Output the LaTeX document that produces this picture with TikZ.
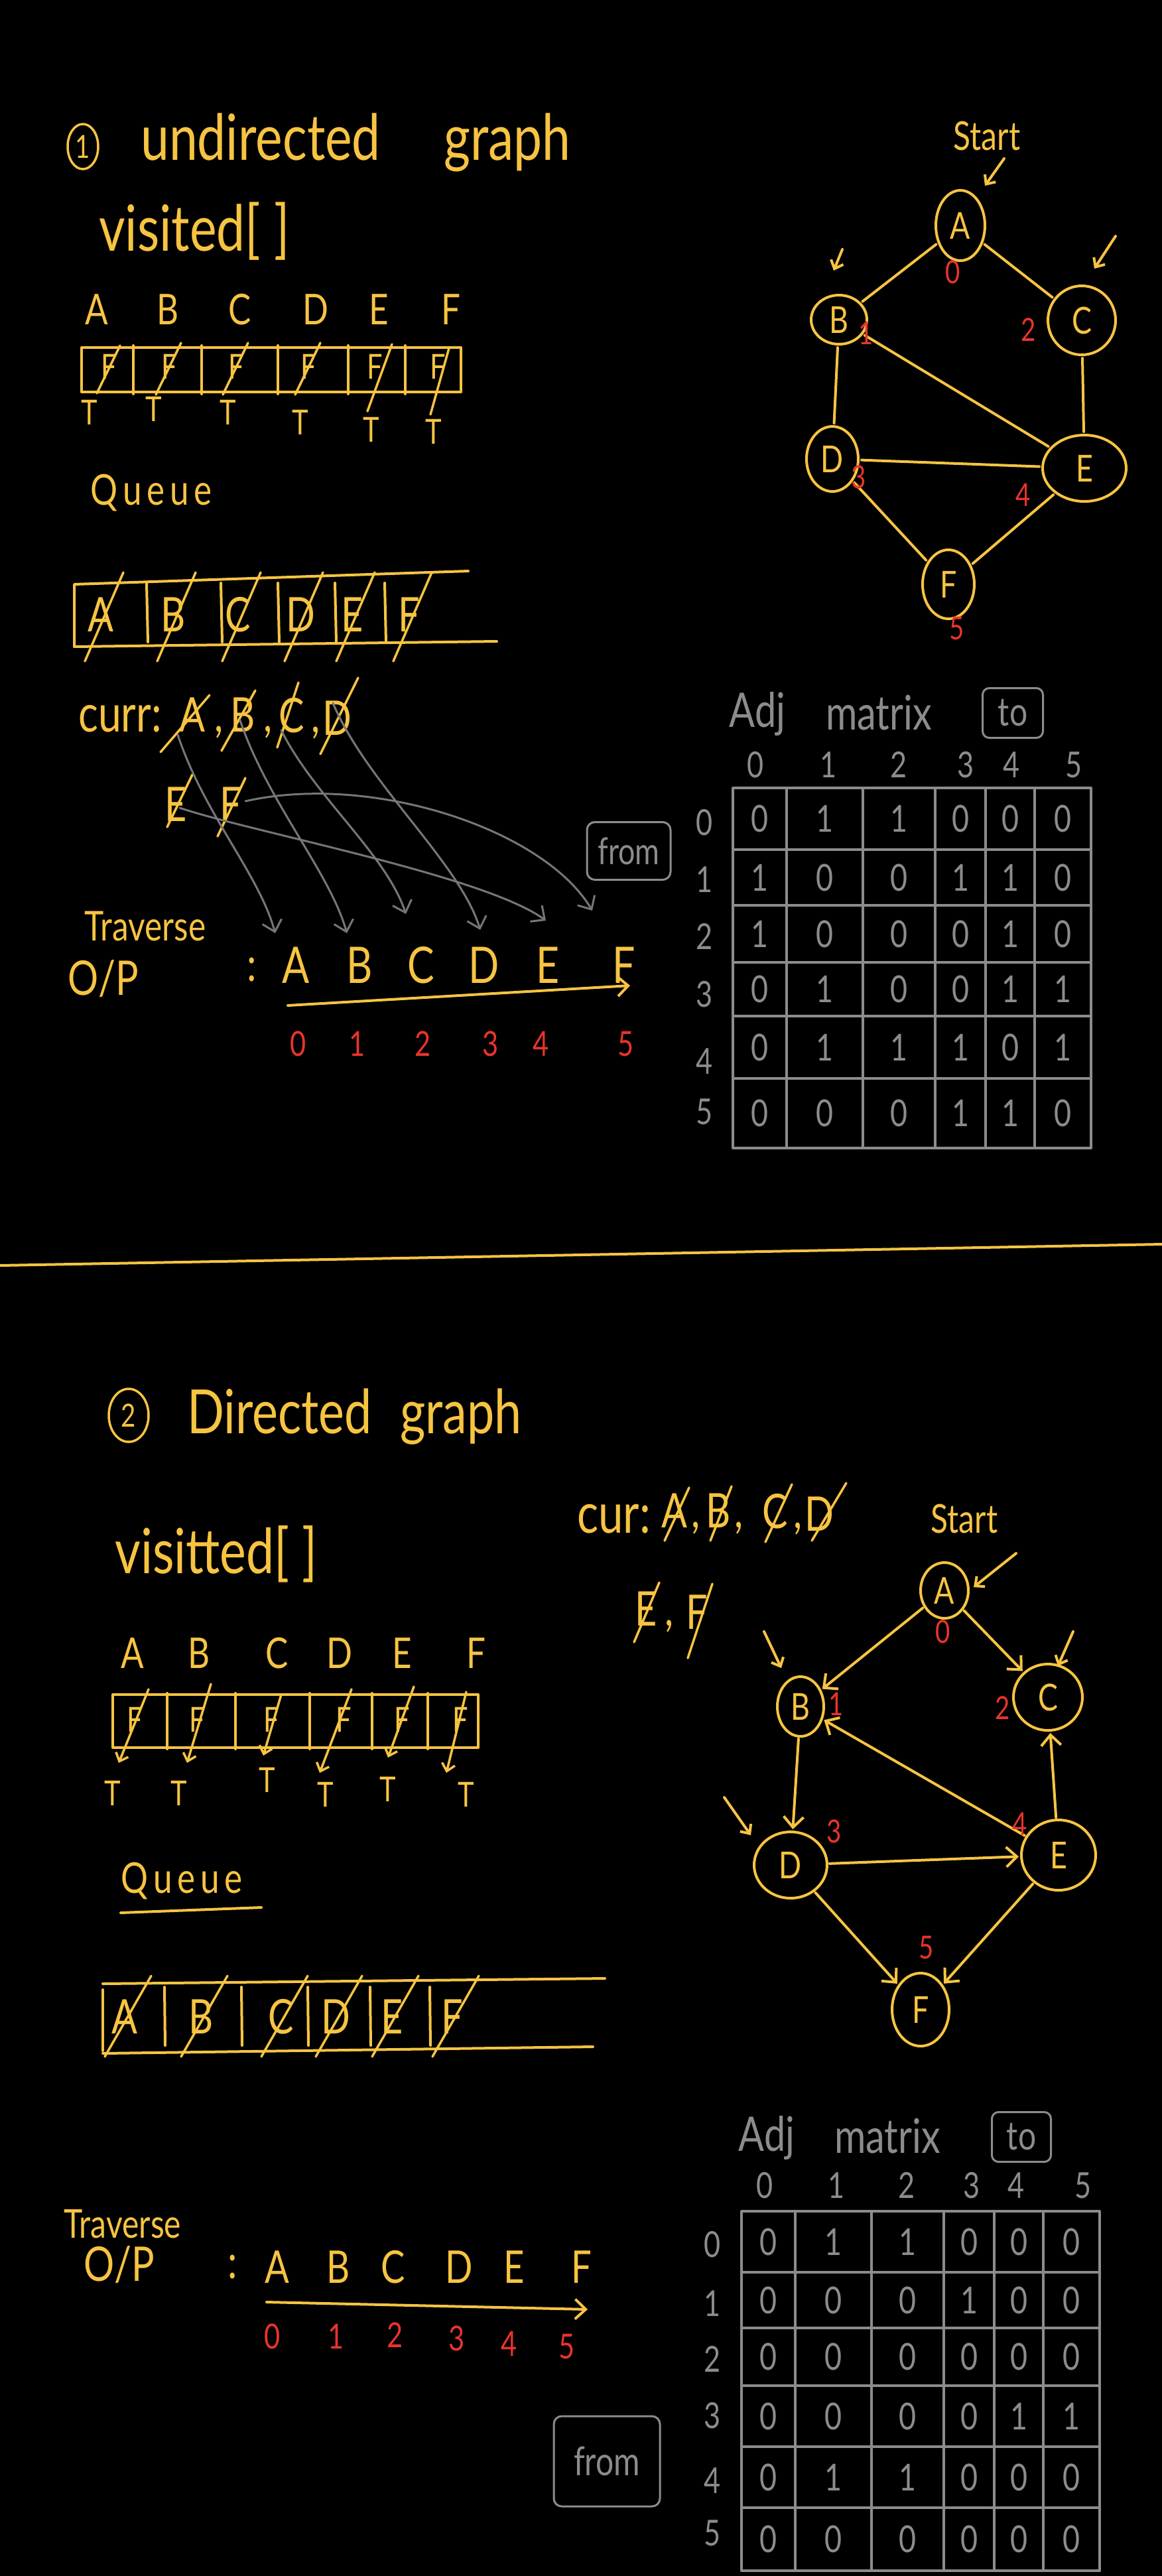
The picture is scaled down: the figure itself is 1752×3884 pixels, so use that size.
\documentclass[tikz,border=0pt]{standalone}
\usepackage{fontspec}
\setmainfont{Lato}[FakeStretch=0.8]
\usetikzlibrary{arrows.meta,shapes.geometric}
\definecolor{yel}{RGB}{247,196,66}
\definecolor{rd}{RGB}{232,52,44}
\definecolor{gr}{RGB}{140,140,140}
\definecolor{ag}{RGB}{118,118,118}
\newcommand\hsz[1]{\fontsize{#1}{#1}\selectfont}
\newcommand\cmafter[1]{\rlap{\hspace{#1pt},}}
\tikzset{
  ytxt/.style={text=yel, inner sep=0pt},
  rtxt/.style={text=rd, inner sep=0pt, font=\hsz{48}},
  gtxt/.style={text=gr, inner sep=0pt},
  yln/.style={draw=yel, line width=4pt},
  gln/.style={draw=gr, line width=3.5pt},
  garr/.style={draw=ag, line width=3pt, -{Straight Barb[length=16pt,width=30pt]}},
  gnode/.style={draw=yel, line width=4pt, ellipse, inner sep=0pt, text=yel, font=\hsz{56}},
  tip/.style={-{Straight Barb[length=16pt,width=30pt]}},
  stip/.style={-{Straight Barb[length=11pt,width=20pt]}},
  xout/.style={draw=yel, line width=3.5pt},
  gbox/.style={draw=gr, text=gr, line width=3pt, rounded corners=12pt, inner sep=0pt},
}
\begin{document}
\begin{tikzpicture}[x=1pt,y=-1pt,line cap=round,line join=round]
\fill[black] (0,0) rectangle (1752,3884);
\useasboundingbox (0,0) rectangle (1752,3884);

% =============== Section 1 : undirected ===============
\node[draw=yel,line width=3.5pt,ellipse,minimum width=46,minimum height=68,inner sep=0pt,text=yel,font=\hsz{48}] (n1) at (125,221) {1};
\node[ytxt,font=\hsz{96},anchor=base west] (t1a) at (212,241) {undirected};
\node[ytxt,font=\hsz{96},anchor=base west] (t1b) at (669,241) {graph};
\node[ytxt,font=\hsz{96},anchor=base west] (v1) at (149,378) {visited[ ]};

\foreach \l/\x in {A/146,B/253,C/362,D/476,E/571,F/680}
  \node[ytxt,font=\hsz{64}] (h1\l) at (\x,467) {\l};

\draw[yln] (123,524) rectangle (695,591);
\foreach \x in {201,304,419,525,611} \draw[yln] (\x,521) -- (\x,594);
\foreach \l/\x/\a/\b/\c/\d in {A/164/-18/40/17/-32,B/255/-20/42/18/-36,C/356/-20/42/18/-36,D/465/-20/42/18/-36,E/565/-11/67/26/-34,F/660/-11/72/17/-28}{
  \node[ytxt,font=\hsz{52}] (b1\l) at (\x,553) {F};
  \draw[xout] ([shift={(\a,\b)}]b1\l.center) -- ([shift={(\c,\d)}]b1\l.center);
}
\foreach \l/\x/\y in {A/135/622,B/232/617,C/344/622,D/453/637,E/560/648,F/654/651}
  \node[ytxt,font=\hsz{52}] (tt1\l) at (\x,\y) {T};

\node[ytxt,font=\hsz{64}\addfontfeature{LetterSpace=12}] (q1) at (228,743) {Queue};
\coordinate (q1a) at (112,975); \coordinate (q1b) at (112,881);
\coordinate (q1c) at (706,861); \coordinate (q1d) at (749,967);
\draw[yln] (q1a) -- (q1b) -- (q1c);
\draw[yln] (q1a) -- (q1d);
\foreach \x in {221,333,419,505,580} \draw[yln] (\x,879) -- (\x+2,968);
\foreach \l/\x in {A/152,B/261,C/359,D/453,E/531,F/617}{
  \node[ytxt,font=\hsz{72}] (qq1\l) at (\x,927) {\l};
  \draw[xout] ([shift={(-24,70)}]qq1\l.center) -- ([shift={(34,-64)}]qq1\l.center);
}

% curr list
\node[ytxt,font=\hsz{78},anchor=base west] (cur1) at (118,1103) {curr:};
\foreach \l/\x/\y/\a/\b/\c/\d/\k in {A/290/1083/-48/51/26/-35/{\cmafter{14}},B/366/1083/-32/49/19/-42/{\cmafter{13}},C/440/1083/-22/44/10/-54/{\cmafter{10}},D/508/1083/-25/54/32/-61/{},E/265/1213/-13/34/25/-45/{},F/348/1213/-20/48/22/-40/{}}{
  \node[ytxt,font=\hsz{72}] (c1\l) at (\x,\y) {\l\k};
  \draw[xout] ([shift={(\a,\b)}]c1\l.center) -- ([shift={(\c,\d)}]c1\l.center);
}

% traverse output
\node[ytxt,font=\hsz{62}] (tr1) at (219,1397) {Traverse};
\node[ytxt,font=\hsz{72}] (op1) at (156,1476) {O/P};
\node[ytxt,font=\hsz{72}] (col1) at (380,1462) {:};
\foreach \l/\x in {A/446,B/542,C/635,D/730,E/826,F/941}
  \node[ytxt,font=\hsz{76}] (o1\l) at (\x,1455) {\l};
\coordinate (a1s) at (434,1516); \coordinate (a1e) at (950,1486);
\draw[yln,tip] (a1s) -- (a1e);
\foreach \n/\x in {0/450,1/539,2/638,3/740,4/816,5/944}
  \node[rtxt,font=\hsz{52}] (r1\n) at (\x,1574) {\n};

% gray arrows curr -> output
\draw[garr] ([shift={(-22,25)}]c1A.center) .. controls +(40,120) and +(-25,-90) .. ([shift={(-31,-48)}]o1A.center);
\draw[garr] ([shift={(-4,3)}]c1B.center) .. controls +(40,120) and +(-25,-90) .. ([shift={(-19,-48)}]o1B.center);
\draw[garr] ([shift={(-16,18)}]c1C.center) .. controls +(50,100) and +(-30,-90) .. ([shift={(-23,-77)}]o1C.center);
\draw[garr] ([shift={(-6,-23)}]c1D.center) .. controls +(50,120) and +(-30,-100) .. ([shift={(-6,-53)}]o1D.center);
\draw[garr] ([shift={(6,5)}]c1E.center) .. controls (380,1255) and (730,1320) .. ([shift={(-3,-67)}]o1E.center);
\draw[garr] ([shift={(22,-5)}]c1F.center) .. controls (560,1165) and (820,1250) .. ([shift={(-48,-82)}]o1F.center);

\node[gbox,font=\hsz{56},minimum width=126,minimum height=87] (from1) at (948,1283) {from};

% adjacency matrix 1
\node[gtxt,font=\hsz{72}] (adj1) at (1142,1077) {Adj};
\node[gtxt,font=\hsz{72}] (mat1) at (1325,1075) {matrix};
\node[gbox,font=\hsz{60},rounded corners=10pt,minimum width=91,minimum height=75] (to1) at (1527,1075) {to};
\foreach \n/\x in {0/1139,1/1249,2/1355,3/1456,4/1525,5/1619}
  \node[gtxt,font=\hsz{54}] (ch1\n) at (\x,1153) {\n};
\foreach \n/\y in {0/1240,1/1326,2/1412,3/1499,4/1600,5/1676}
  \node[gtxt,font=\hsz{54}] (rh1\n) at (1062,\y) {\n};
\foreach \x in {1105,1186,1301,1410,1486,1560,1645} \draw[gln] (\x,1188) -- (\x,1731);
\foreach \y in {1188,1281,1365,1451,1532,1626,1731} \draw[gln] (1105,\y) -- (1645,\y);
\foreach \row [count=\r from 0] in {{0,1,1,0,0,0},{1,0,0,1,1,0},{1,0,0,0,1,0},{0,1,0,0,1,1},{0,1,1,1,0,1},{0,0,0,1,1,0}}{
  \foreach \v [count=\c from 0] in \row {
    \pgfmathsetmacro\cx{{1145.5,1243.5,1355.5,1448,1523,1602.5}[\c]}
    \pgfmathsetmacro\cy{{1234.5,1323,1408,1491.5,1579,1678.5}[\r]}
    \node[gtxt,font=\hsz{56}] (m1-\r-\c) at (\cx,\cy) {\v};
  }
}

% graph 1
\node[gnode,minimum width=74,minimum height=106] (g1A) at (1448,340) {A};
\node[gnode,minimum width=84,minimum height=74] (g1B) at (1265,482) {B};
\node[gnode,minimum width=102,minimum height=104] (g1C) at (1631,483) {C};
\node[gnode,minimum width=78,minimum height=98] (g1D) at (1255,692) {D};
\node[gnode,minimum width=126,minimum height=100] (g1E) at (1635,706) {E};
\node[gnode,minimum width=78,minimum height=104] (g1F) at (1430,881) {F};
\foreach \a/\b in {A/B,A/C,B/D,B/E,C/E,D/E,D/F,E/F}
  \draw[yln,shorten <=3pt,shorten >=3pt] (g1\a) -- (g1\b);
\node[ytxt,font=\hsz{60}] (st1) at (1488,205) {Start};
\coordinate (s1a) at (1514,239); \coordinate (s1b) at (1485,280);
\draw[yln,stip] (s1a) -- (s1b);
\coordinate (b1a) at (1270,376); \coordinate (b1b) at (1257,408);
\draw[yln,stip] (b1a) -- (b1b);
\coordinate (k1a) at (1682,356); \coordinate (k1b) at (1650,405);
\draw[yln,stip] (k1a) -- (k1b);
\foreach \n/\x/\y in {0/1437/410,1/1306/502,2/1551/497,3/1295/719,4/1543/746,5/1443/947}
  \node[rtxt] (gr1\n) at (\x,\y) {\n};

% divider
\coordinate (dv1) at (0,1908); \coordinate (dv2) at (1752,1876);
\draw[yln] (dv1) -- (dv2);

% =============== Section 2 : directed ===============
\node[draw=yel,line width=3.5pt,ellipse,minimum width=60,minimum height=80,inner sep=0pt,text=yel,font=\hsz{48}] (n2) at (194,2134) {2};
\node[ytxt,font=\hsz{92},anchor=base west] (t2a) at (282,2161) {Directed};
\node[ytxt,font=\hsz{92},anchor=base west] (t2b) at (603,2161) {graph};
\node[ytxt,font=\hsz{94},anchor=base west] (v2) at (173,2372) {visitted[ ]};

\foreach \l/\x in {A/200,B/300,C/418,D/512,E/606,F/718}
  \node[ytxt,font=\hsz{64}] (h2\l) at (\x,2493) {\l};
\draw[yln] (170,2555) rectangle (721,2635);
\foreach \x in {252,355,467,561,645} \draw[yln] (\x,2553) -- (\x,2637);
\foreach \l/\x/\a/\b/\c/\d in {A/203/21/-46/-24/65,B/297/21/-54/-15/65,C/409/15/-38/-12/54,D/518/12/-46/-36/80,E/606/18/-50/-21/57,F/694/9/-42/-21/80}{
  \node[ytxt,font=\hsz{52}] (b2\l) at (\x,2593) {F};
  \draw[xout,stip] ([shift={(\a,\b)}]b2\l.center) -- ([shift={(\c,\d)}]b2\l.center);
}
\foreach \l/\x/\y in {A/170/2704,B/270/2704,C/403/2684,D/491/2706,E/585/2698,F/703/2706}
  \node[ytxt,font=\hsz{52}] (tt2\l) at (\x,\y) {T};

\node[ytxt,font=\hsz{64}\addfontfeature{LetterSpace=12}] (q2) at (274,2836) {Queue};
\coordinate (u2a) at (182,2884); \coordinate (u2b) at (394,2876);
\draw[yln] (u2a) -- (u2b);
\coordinate (q2a) at (155,2991); \coordinate (q2b) at (912,2983);
\coordinate (q2c) at (155,3096); \coordinate (q2d) at (894,3086);
\draw[yln] (q2a) -- (q2b);
\draw[yln] (q2c) -- (q2d);
\draw[yln] (155,3000) -- (155,3092);
\foreach \x in {248,364,464,558,648} \draw[yln] (\x,2996) -- (\x+1,3084);
\foreach \l/\x in {A/188,B/303,C/424,D/506,E/591,F/682}{
  \node[ytxt,font=\hsz{72}] (qq2\l) at (\x,3041) {\l};
  \draw[xout] ([shift={(-30,60)}]qq2\l.center) -- ([shift={(40,-62)}]qq2\l.center);
}

% cur list
\node[ytxt,font=\hsz{84},anchor=base west] (cur2) at (870,2311) {cur:};
\foreach \l/\x/\y/\a/\b/\c/\d/\k in {A/1017/2283/-15/40/22/-40/{\cmafter{6}},B/1083/2283/-12/40/20/-42/{\cmafter{6}},C/1169/2283/-15/42/25/-45/{\cmafter{8}},D/1235/2283/-11/40/41/-47/{},E/974/2431/-18/45/20/-45/{\cmafter{12}},F/1051/2431/-14/69/23/-43/{}}{
  \node[ytxt,font=\hsz{72}] (c2\l) at (\x,\y) {\l\k};
  \draw[xout] ([shift={(\a,\b)}]c2\l.center) -- ([shift={(\c,\d)}]c2\l.center);
}

% traverse 2
\node[ytxt,font=\hsz{60}] (tr2) at (185,3353) {Traverse};
\node[ytxt,font=\hsz{72}] (op2) at (180,3415) {O/P};
\node[ytxt,font=\hsz{72}] (col2) at (351,3418) {:};
\foreach \l/\x in {A/418,B/510,C/593,D/692,E/775,F/877}
  \node[ytxt,font=\hsz{68}] (o2\l) at (\x,3418) {\l};
\coordinate (a2s) at (402,3471); \coordinate (a2e) at (886,3482);
\draw[yln,tip] (a2s) -- (a2e);
\foreach \n/\x/\y in {0/411/3523,1/507/3523,2/596/3521,3/689/3526,4/768/3534,5/855/3538}
  \node[rtxt,font=\hsz{52}] (r2\n) at (\x,\y) {\n};

\node[gbox,font=\hsz{60},minimum width=160,minimum height=136] (from2) at (915,3711) {from};

% adjacency matrix 2
\node[gtxt,font=\hsz{72}] (adj2) at (1156,3223) {Adj};
\node[gtxt,font=\hsz{72}] (mat2) at (1338,3220) {matrix};
\node[gbox,font=\hsz{60},rounded corners=10pt,minimum width=89,minimum height=75] (to2) at (1540,3222) {to};
\foreach \n/\x in {0/1153,1/1261,2/1367,3/1465,4/1532,5/1633}
  \node[gtxt,font=\hsz{54}] (ch2\n) at (\x,3295) {\n};
\foreach \n/\y in {0/3384,1/3473,2/3557,3/3642,4/3740,5/3819}
  \node[gtxt,font=\hsz{54}] (rh2\n) at (1074,\y) {\n};
\foreach \x in {1118,1199,1314,1423,1499,1573,1658} \draw[gln] (\x,3334) -- (\x,3876);
\foreach \y in {3334,3426,3510,3597,3689,3781,3876} \draw[gln] (1118,\y) -- (1658,\y);
\foreach \row [count=\r from 0] in {{0,1,1,0,0,0},{0,0,0,1,0,0},{0,0,0,0,0,0},{0,0,0,0,1,1},{0,1,1,0,0,0},{0,0,0,0,0,0}}{
  \foreach \v [count=\c from 0] in \row {
    \pgfmathsetmacro\cx{{1158.5,1256.5,1368.5,1461,1536,1615.5}[\c]}
    \pgfmathsetmacro\cy{{3380,3468,3553.5,3643,3735,3828.5}[\r]}
    \node[gtxt,font=\hsz{56}] (m2-\r-\c) at (\cx,\cy) {\v};
  }
}

% graph 2
\node[gnode,minimum width=72,minimum height=84] (g2A) at (1424,2398) {A};
\node[gnode,minimum width=70,minimum height=90] (g2B) at (1207,2573) {B};
\node[gnode,minimum width=104,minimum height=100] (g2C) at (1580,2559) {C};
\node[gnode,minimum width=110,minimum height=100] (g2D) at (1192,2812) {D};
\node[gnode,minimum width=112,minimum height=106] (g2E) at (1596,2797) {E};
\node[gnode,minimum width=86,minimum height=110] (g2F) at (1388,3030) {F};
\foreach \a/\b in {A/B,A/C,B/D,D/E,E/B,E/C,D/F,E/F}
  \draw[yln,tip,shorten <=2pt,shorten >=2pt] (g2\a) -- (g2\b);
\node[ytxt,font=\hsz{60}] (st2) at (1454,2290) {Start};
\coordinate (s2a) at (1532,2342); \coordinate (s2b) at (1468,2393);
\draw[yln,stip] (s2a) -- (s2b);
\coordinate (b2a) at (1152,2460); \coordinate (b2b) at (1178,2515);
\draw[yln,stip] (b2a) -- (b2b);
\coordinate (k2a) at (1618,2460); \coordinate (k2b) at (1595,2512);
\draw[yln,stip] (k2a) -- (k2b);
\coordinate (d2a) at (1092,2710); \coordinate (d2b) at (1132,2767);
\draw[yln,stip] (d2a) -- (d2b);
\foreach \n/\x/\y in {0/1422/2460,1/1261/2569,2/1512/2575,3/1258/2761,4/1538/2750,5/1397/2936}
  \node[rtxt] (gr2\n) at (\x,\y) {\n};

\end{tikzpicture}
\end{document}
